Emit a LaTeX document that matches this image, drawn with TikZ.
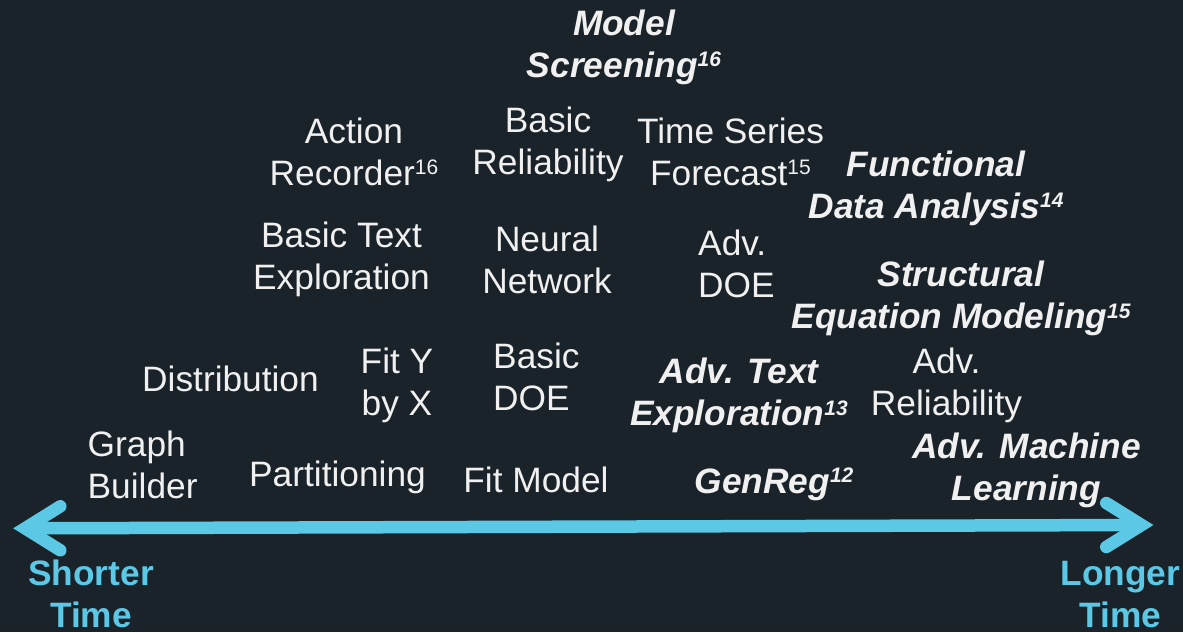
\documentclass[tikz,border=0pt]{standalone}
\usepackage{fontspec}
\setmainfont{Liberation Sans}
\usetikzlibrary{calc}
\definecolor{bgc}{HTML}{1B232A}
\definecolor{txt}{HTML}{F0F0F0}
\definecolor{blu}{HTML}{5BC8E6}
\newcommand{\sups}[1]{\raisebox{10.5pt}{\fontsize{21}{21}\selectfont #1}}
\newcommand{\cl}[1]{\begin{tabular}[t]{@{}c@{}}#1\end{tabular}}
\newcommand{\leftt}[1]{\begin{tabular}[t]{@{}l@{}}#1\end{tabular}}
\tikzset{
  lab/.style={anchor=base, inner sep=0pt, text=txt, font=\fontsize{35.3}{42}\selectfont},
  emlab/.style={lab, font=\fontsize{35.3}{42}\selectfont\bfseries\itshape},
  leftlab/.style={lab, anchor=base west},
  timelab/.style={anchor=base, inner sep=0pt, text=blu, font=\fontsize{35.3}{42}\selectfont\bfseries},
  arrowline/.style={draw=blu, line width=12.5pt},
}
\begin{document}
\begin{tikzpicture}[x=1pt,y=-1pt]
\fill[bgc] (0,0) rectangle (1183,632);
\useasboundingbox (0,0) rectangle (1183,632);
% time axis
\coordinate (L) at (13.3,528.3);
\coordinate (R) at (1153.3,525);
\draw[arrowline] ($(L)+(11.7,0)$) -- ($(R)+(-11.7,0)$);
\draw[arrowline, line cap=round, line join=miter] ($(L)+(47,-22)$) -- ($(L)+(11.7,0)$) -- ($(L)+(47,22)$);
\draw[arrowline, line cap=round, line join=miter] ($(R)+(-47,-22)$) -- ($(R)+(-11.7,0)$) -- ($(R)+(-47,22)$);
% labels
\node[emlab] (screen) at (624,35) {\cl{Model\\Screening\sups{16}}};
\node[lab] (action) at (354,143) {\cl{Action\\Recorder\sups{16}}};
\node[lab] (basrel) at (548,132) {\cl{Basic\\Reliability}};
\node[lab] (tsf) at (730.5,143) {\cl{Time Series\\Forecast\sups{15}}};
\node[emlab] (fda) at (936,176) {\cl{Functional\\Data Analysis\sups{14}}};
\node[lab] (btext) at (341.5,247) {\cl{Basic Text\\Exploration}};
\node[lab] (nn) at (547,251.5) {\cl{Neural\\Network}};
\node[leftlab] (advdoe) at (698,255) {\leftt{Adv.\\DOE}};
\node[emlab] (sem) at (961,286.7) {\cl{Structural\\Equation Modeling\sups{15}}};
\node[lab] (dist) at (230.5,391) {Distribution};
\node[lab] (fityx) at (397,373) {\cl{Fit Y\\by X}};
\node[leftlab] (bdoe) at (493,368) {\leftt{Basic\\DOE}};
\node[emlab] (atext) at (739,383.5) {\cl{Adv. Text\\Exploration\sups{13}}};
\node[lab] (arel) at (946.5,373) {\cl{Adv.\\Reliability}};
\node[leftlab] (gb) at (87.5,456.7) {\leftt{Graph\\Builder}};
\node[lab] (part) at (337.5,486) {Partitioning};
\node[lab] (fm) at (536,492.7) {Fit Model};
\node[emlab] (genreg) at (774,493) {GenReg\sups{12}};
\node[emlab] (aml) at (1026.5,458) {\cl{Adv. Machine\\Learning}};
\node[timelab] (short) at (91,585) {\cl{Shorter\\Time}};
\node[timelab] (long) at (1120.5,585) {\cl{Longer\\Time}};
\end{tikzpicture}
\end{document}
